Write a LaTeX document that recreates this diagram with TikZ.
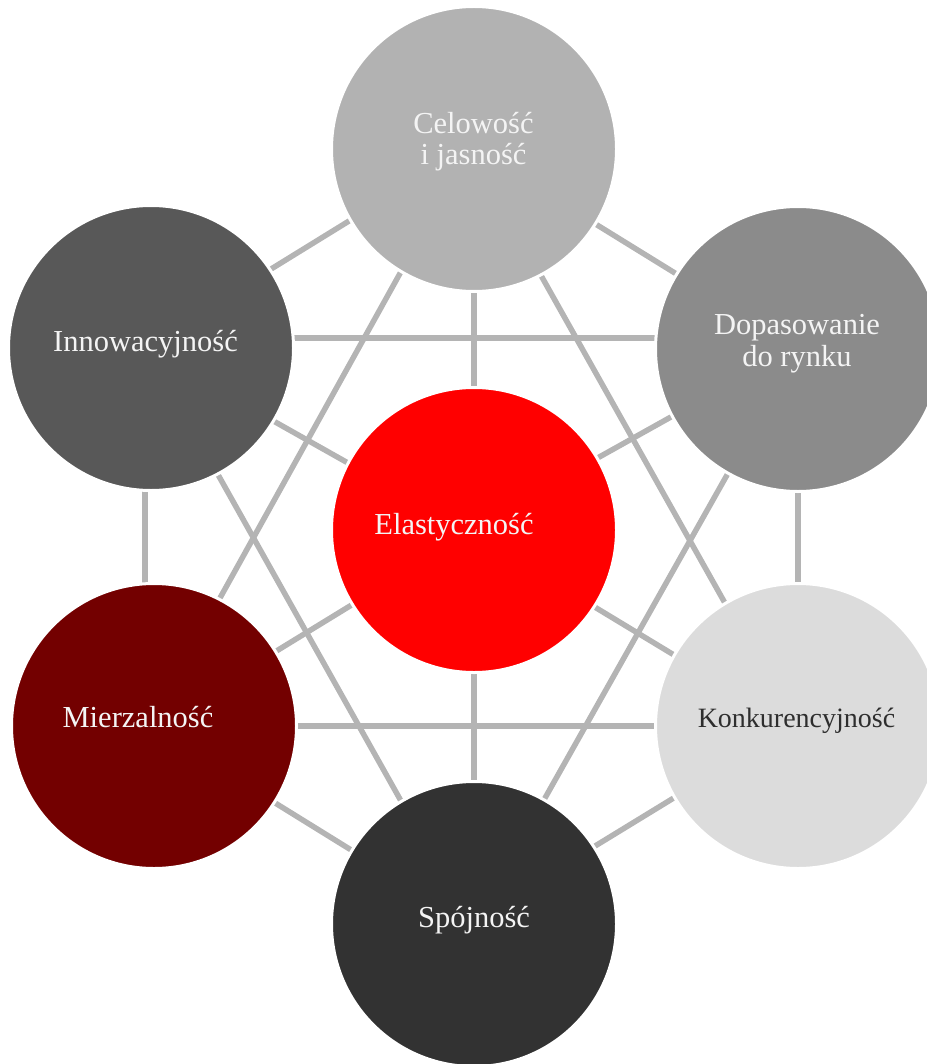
\documentclass[tikz,border=0pt]{standalone}
\usepackage{fontspec}
\setmainfont{Liberation Serif}
\usetikzlibrary{backgrounds}

\definecolor{linkgray}{HTML}{B4B4B4}
\definecolor{topfill}{HTML}{B2B2B2}
\definecolor{leftupfill}{HTML}{585858}
\definecolor{rightupfill}{HTML}{8B8B8B}
\definecolor{corefill}{HTML}{FF0000}
\definecolor{leftlowfill}{HTML}{730000}
\definecolor{rightlowfill}{HTML}{DCDCDC}
\definecolor{bottomfill}{HTML}{323232}
\definecolor{lighttext}{HTML}{F4F4F4}
\definecolor{darktext}{HTML}{2E2E2E}

\begin{document}
\begin{tikzpicture}[x=1pt,y=-1pt,
  disc/.style={circle, minimum size=285pt, inner sep=0pt, outer sep=0pt,
               draw=white, line width=3pt},
  link/.style={draw=linkgray, line width=5.5pt},
  caption/.style={anchor=base, inner sep=0pt, outer sep=0pt, align=center,
                  text=lighttext, font=\fontsize{30.5}{31.5}\selectfont}]
\useasboundingbox (0,0) rectangle (926,1064);

% circles
\node[disc, fill=topfill]      (top) at (474,149) {};
\node[disc, fill=leftupfill]   (tl)  at (151,348) {};
\node[disc, fill=rightupfill]  (tr)  at (798,349) {};
\node[disc, fill=corefill]     (c)   at (474,530) {};
\node[disc, fill=leftlowfill]  (bl)  at (154,726) {};
\node[disc, fill=rightlowfill] (br)  at (798,726) {};
\node[disc, fill=bottomfill]   (bot) at (474,924) {};

% captions (base = baseline of the last line)
\node[caption] (toptxt) at (473.5,165) {Celowość\\i jasność};
\node[caption] (tltxt)  at (145.5,351) {Innowacyjność};
\node[caption] (trtxt)  at (797,366)   {Dopasowanie\\do rynku};
\node[caption] (ctxt)   at (454,534)   {Elastyczność};
\node[caption] (bltxt)  at (138,727)   {Mierzalność};
\node[caption, text=darktext, font=\fontsize{28}{30}\selectfont]
               (brtxt)  at (796.5,727) {Konkurencyjność};
\node[caption] (bottxt) at (474,927)   {Spójność};

% connectors behind the circles
\begin{pgfonlayer}{background}
  \draw[link] ([yshift=5pt]top.center) -- ([yshift=5pt]tl.center);
  \draw[link] (top.center) -- (tr.center);
  \draw[link] (top.center) -- (c.center);
  \draw[link] ([xshift=-5pt]top.center) -- ([xshift=-5pt]bl.center);
  \draw[link] ([xshift=-4pt]top.center) -- ([xshift=-4pt]br.center);
  \draw[link] ([yshift=10pt]tl.center) -- ([yshift=10pt]tl.center -| tr.center);
  \draw[link] ([yshift=-4pt]tl.center) -- ([yshift=-4pt]c.center);
  \draw[link] ([xshift=-6pt]tl.center) -- ([xshift=-6pt]tl.center |- bl.center);
  \draw[link] ([xshift=-4pt]tl.center) -- ([xshift=-4pt]bot.center);
  \draw[link] ([yshift=3pt]tr.center) -- ([yshift=3pt]c.center);
  \draw[link] (tr.center) -- (br.center);
  \draw[link] (tr.center) -- (bot.center);
  \draw[link] (bl.center) -- (c.center);
  \draw[link] (bl.center) -- (br.center);
  \draw[link] ([yshift=-2pt]bl.center) -- ([yshift=-2pt]bot.center);
  \draw[link] ([yshift=-4pt]br.center) -- ([yshift=-4pt]c.center);
  \draw[link] ([yshift=4pt]br.center) -- ([yshift=4pt]bot.center);
  \draw[link] (c.center) -- (bot.center);
\end{pgfonlayer}
\end{tikzpicture}
\end{document}
